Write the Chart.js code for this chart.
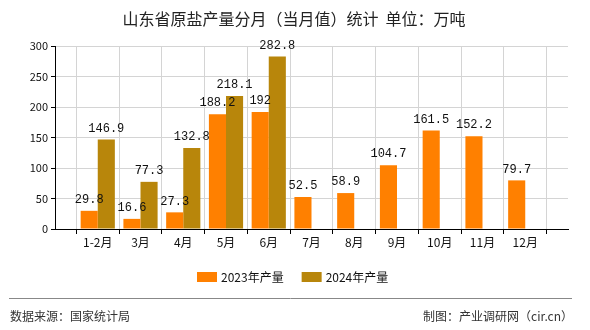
<!DOCTYPE html>
<html>
<head>
<meta charset="utf-8">
<script src="https://cdn.jsdelivr.net/npm/chart.js@4/dist/chart.umd.min.js"></script>
<style>
  html, body { margin: 0; padding: 0; background: #fff; }
  #wrap { width: 590px; height: 330px; position: relative; }
</style>
</head>
<body>
<div id="wrap"><canvas id="c"></canvas></div>
<script>
const months = ['1-2月', '3月', '4月', '5月', '6月', '7月', '8月', '9月', '10月', '11月', '12月'];
const output2023 = [29.8, 16.6, 27.3, 188.2, 192, 52.5, 58.9, 104.7, 161.5, 152.2, 79.7];
const output2024 = [146.9, 77.3, 132.8, 218.1, 282.8, null, null, null, null, null, null];
const yTicks = [0, 50, 100, 150, 200, 250, 300];

const FONT = '"Noto Sans CJK SC", "DejaVu Sans", sans-serif';

// empty slot at each end so the months sit on the grid lines
const labels = [''].concat(months, ['']);
const pad = arr => [null].concat(arr, [null]);

// title, value labels, legend and footer
const extras = {
  id: 'extras',
  afterDatasetsDraw(chart) {
    const ctx = chart.ctx;
    ctx.save();
    ctx.font = '12px "Liberation Mono", "DejaVu Sans Mono", monospace';
    ctx.fillStyle = '#111';
    ctx.textAlign = 'center';
    ctx.textBaseline = 'bottom';
    chart.data.datasets.forEach((ds, i) => {
      chart.getDatasetMeta(i).data.forEach((bar, j) => {
        const v = ds.data[j];
        if (v == null) return;
        ctx.fillText(String(v), bar.x, bar.y - 5);
      });
    });
    ctx.restore();
  },
  afterDraw(chart) {
    const ctx = chart.ctx;
    ctx.save();
    // title
    ctx.fillStyle = '#222';
    ctx.font = '16px ' + FONT;
    ctx.textAlign = 'center';
    ctx.textBaseline = 'middle';
    ctx.fillText('山东省原盐产量分月（当月值）统计  单位：万吨', 294, 19);

    // legend
    const items = chart.data.datasets.map(d => ({ text: d.label, color: d.backgroundColor }));
    ctx.font = '12px ' + FONT;
    ctx.textAlign = 'left';
    let x = 197;
    items.forEach(it => {
      ctx.fillStyle = it.color;
      ctx.fillRect(x, 272, 20, 10);
      ctx.fillStyle = '#111';
      ctx.fillText(it.text, x + 24, 277);
      x += 24 + ctx.measureText(it.text).width + 18;
    });

    // footer
    ctx.strokeStyle = '#888';
    ctx.lineWidth = 1;
    ctx.beginPath();
    ctx.moveTo(9, 298.5);
    ctx.lineTo(572, 298.5);
    ctx.stroke();
    ctx.fillStyle = '#333';
    ctx.font = '12px ' + FONT;
    ctx.textAlign = 'left';
    ctx.fillText('数据来源：国家统计局', 10, 316);
    ctx.textAlign = 'right';
    ctx.fillText('制图：产业调研网（cir.cn）', 573, 316);
    ctx.restore();
  }
};

new Chart(document.getElementById('c'), {
  type: 'bar',
  data: {
    labels: labels,
    datasets: [{
      label: '2023年产量',
      data: pad(output2023),
      backgroundColor: '#FF8000',
      barPercentage: 1,
      categoryPercentage: 0.8
    }, {
      label: '2024年产量',
      data: pad(output2024),
      backgroundColor: '#B8860B',
      barPercentage: 1,
      categoryPercentage: 0.8
    }]
  },
  options: {
    responsive: true,
    maintainAspectRatio: false,
    animation: false,
    layout: { padding: { left: 0, right: 22, top: 46, bottom: 81 } },
    plugins: {
      legend: { display: false },
      title: { display: false },
      tooltip: { enabled: false }
    },
    scales: {
      x: {
        offset: false,
        grid: { color: '#d4d4d4', tickColor: '#000', tickLength: 5 },
        border: { color: '#000', width: 1 },
        ticks: {
          autoSkip: false, maxRotation: 0, minRotation: 0,
          color: '#111', font: { family: FONT, size: 12 }, padding: 1
        },
        afterFit(s) { s.height = 20; }
      },
      y: {
        min: 0,
        max: 300,
        afterBuildTicks(s) { s.ticks = yTicks.map(v => ({ value: v })); },
        grid: { color: '#d4d4d4', tickColor: '#000', tickLength: 4 },
        border: { color: '#000', width: 1 },
        ticks: { color: '#111', font: { family: FONT, size: 11 }, padding: 3 },
        afterFit(s) { s.width = 55; }
      }
    }
  },
  plugins: [extras]
});
</script>
</body>
</html>
